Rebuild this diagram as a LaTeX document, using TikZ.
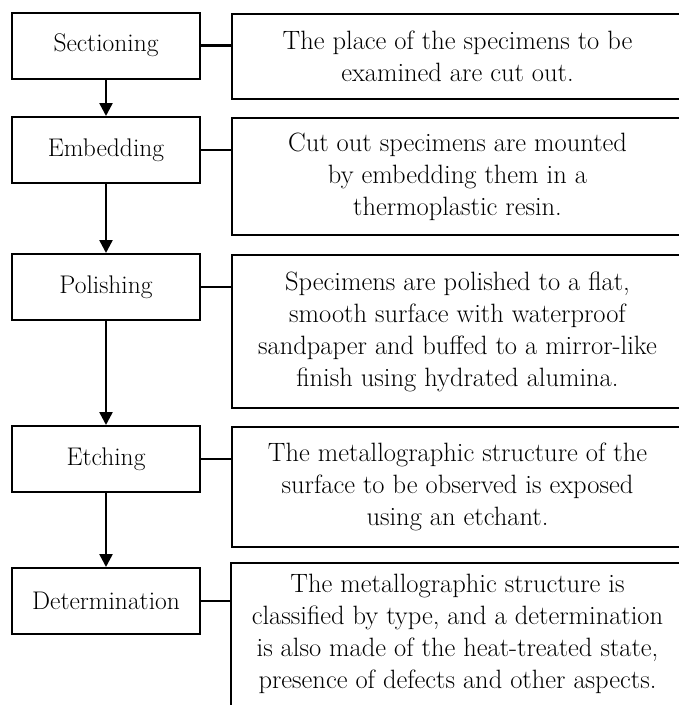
\documentclass[tikz,border=0pt]{standalone}
\usepackage{tikz}
\usetikzlibrary{arrows.meta,positioning}

\begin{document}
\begin{tikzpicture}[
  x=1pt,y=-1pt,
  every node/.style={inner sep=0pt},
  stepbox/.style={draw,line width=2pt,minimum width=188pt,minimum height=66pt,
    font=\fontsize{25.5}{32}\selectfont},
  descbox/.style={draw,line width=2pt,align=center,minimum width=451pt,anchor=north west,
    font=\fontsize{26.5}{32}\selectfont},
  flow/.style={line width=2.5pt,-{Triangle[width=13pt,length=13pt]}},
  link/.style={line width=2.5pt}
]
  \useasboundingbox (0,0) rectangle (679,705);
  \clip (0,0) rectangle (679,705);

  % process steps
  \node[stepbox] (sec) at (106,45.5) {Sectioning};
  \node[stepbox,below=36.5pt of sec] (emb) {Embedding};
  \node[stepbox,below=69pt of emb] (pol) {Polishing};
  \node[stepbox,below=104pt of pol] (etc) {Etching};
  \node[stepbox,below=74pt of etc] (det) {Determination};

  % descriptions
  \node[descbox,minimum height=85pt] (dsec) at ([xshift=30pt,yshift=-1pt]sec.north east)
    {The place of the specimens to be\\examined are cut out.};
  \node[descbox,minimum height=117pt] (demb) at ([xshift=30pt,yshift=-1pt]emb.north east)
    {Cut out specimens are mounted\\by embedding them in a\\thermoplastic resin.};
  \node[descbox,minimum height=153pt] (dpol) at ([xshift=30pt,yshift=-1pt]pol.north east)
    {Specimens are polished to a flat,\\smooth surface with waterproof\\sandpaper and buffed to a mirror-like\\finish using hydrated alumina.};
  \node[descbox,minimum height=120pt] (detc) at ([xshift=30pt,yshift=-1pt]etc.north east)
    {The metallographic structure of the\\surface to be observed is exposed\\using an etchant.};
  \node[descbox,draw=none,minimum height=139pt] (ddet) at ([xshift=30pt,yshift=4pt]det.north east)
    {The metallographic structure is\\classified by type, and a determination\\is also made of the heat-treated state,\\presence of defects and other aspects.};
  \draw[line width=2pt] ([yshift=-30pt]ddet.south west) -- (ddet.north west)
    -- (ddet.north east) -- ([yshift=-30pt]ddet.south east);

  % arrows and links
  \draw[flow] (sec) -- (emb);
  \draw[flow] (emb) -- (pol);
  \draw[flow] (pol) -- (etc);
  \draw[flow] (etc) -- (det);
  \foreach \s/\d in {sec/dsec,emb/demb,pol/dpol,etc/detc,det/ddet}
    \draw[link] (\s.east) -- (\s.east -| \d.west);
\end{tikzpicture}
\end{document}
